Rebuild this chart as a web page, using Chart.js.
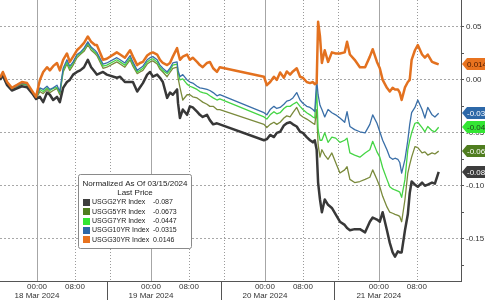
<!DOCTYPE html>
<html>
<head>
<meta charset="utf-8">
<script src="https://cdn.jsdelivr.net/npm/chart.js@4.4.1/dist/chart.umd.min.js"></script>
<style>
  html, body { margin: 0; padding: 0; background: #fff; }
  #wrap { width: 485px; height: 300px; }
</style>
</head>
<body>
<div id="wrap"><canvas id="chart" width="485" height="300"></canvas></div>
<script>
// time axis: hours since 18 Mar 2024 00:00
const hours = [
  -7.8, -7.2, -6.3, -5.3, -4.2, -3.2, -2.1, -0.8, -0.2,
  0.6, 1.3, 2.1, 2.7, 3.4, 4.2, 4.8, 5.5, 6.3, 6.9, 7.6, 8.4, 9.1, 9.9, 10.7, 11.4, 12.2, 12.6, 13.9, 14.7,
  16.8, 17.5, 18.5, 19.6, 20.2, 21.1, 21.7, 22.3, 23.2, 23.8, 24.4, 25.3, 25.9, 26.5, 27.4, 28.0, 28.6, 29.5, 29.7, 30.1,
  30.7, 31.6, 32.2, 32.8, 33.7, 34.3, 34.9, 35.8, 36.4, 37.1, 37.9, 38.5,
  47.8, 48.4, 49.1, 49.9, 50.5, 51.2, 52.0, 52.6, 53.3, 53.9, 54.7, 55.4, 56.0, 56.8, 57.5, 58.1, 58.5, 58.9,
  59.2, 59.6, 60.0, 60.6, 61.3, 62.1, 62.9, 63.8, 64.8, 65.3, 65.9, 66.9, 68.0, 69.1, 70.1, 70.7, 71.6, 72.2, 72.8,
  73.7, 74.3, 74.9, 75.4, 76.0, 76.4, 76.8, 77.5, 78.1, 78.5, 78.9, 79.6, 80.2, 81.1, 81.7, 82.3, 83.2, 83.8, 84.6
];

const usgg2yr = [
  0, 0.004, -0.005, -0.010, -0.008, -0.006, -0.007, -0.014, -0.018,
  -0.016, -0.021, -0.012, -0.014, -0.019, -0.016, -0.021, -0.0075, -0.002, 0, 0.005, 0.0075, 0.009, 0.012, 0.019, 0.012, 0.0075, 0.005, 0.0075, 0.005,
  0.002, 0.003, -0.002, -0.002, -0.002, -0.011, -0.007, -0.003, 0.005, 0.0075, 0.003, 0.005, 0.002, -0.002, -0.017, -0.012, -0.014, -0.009, -0.022, -0.036,
  -0.028, -0.033, -0.025, -0.026, -0.030, -0.033, -0.035, -0.033, -0.038, -0.042, -0.041, -0.042,
  -0.057, -0.056, -0.052, -0.054, -0.050, -0.049, -0.043, -0.041, -0.040, -0.042, -0.044, -0.049, -0.050, -0.054, -0.057, -0.059, -0.057, -0.066,
  -0.097, -0.113, -0.125, -0.113, -0.118, -0.121, -0.127, -0.134, -0.137, -0.140, -0.142, -0.141, -0.141, -0.144, -0.134, -0.130, -0.132, -0.134, -0.125,
  -0.142, -0.154, -0.163, -0.167, -0.162, -0.163, -0.163, -0.142, -0.127, -0.107, -0.096, -0.099, -0.101, -0.097, -0.100, -0.099, -0.097, -0.098, -0.087
];

const usgg5yr = [
  0, 0.006, -0.004, -0.009, -0.007, -0.004, -0.005, -0.014, -0.018,
  -0.011, -0.013, -0.009, -0.012, -0.010, -0.008, -0.014, 0.0075, 0.015, 0.009, 0.014, 0.021, 0.024, 0.027, 0.033, 0.028, 0.025, 0.023, 0.011, 0.012,
  0.017, 0.015, 0.012, 0.019, 0.013, 0.006, 0.0075, 0.009, 0.015, 0.017, 0.018, 0.015, 0.010, 0.0075, 0.003, 0.007, 0.011, 0.012, 0.002, -0.007,
  -0.019, -0.014, -0.014, -0.016, -0.017, -0.019, -0.021, -0.023, -0.025, -0.025, -0.028, -0.028,
  -0.042, -0.045, -0.042, -0.040, -0.042, -0.040, -0.036, -0.034, -0.035, -0.031, -0.026, -0.033, -0.035, -0.037, -0.039, -0.041, -0.042, -0.028,
  -0.061, -0.073, -0.066, -0.071, -0.075, -0.069, -0.078, -0.088, -0.085, -0.082, -0.094, -0.097, -0.096, -0.094, -0.092, -0.085, -0.094, -0.101, -0.110,
  -0.120, -0.125, -0.126, -0.127, -0.128, -0.129, -0.134, -0.113, -0.088, -0.080, -0.073, -0.063, -0.064, -0.069, -0.068, -0.071, -0.069, -0.070, -0.0673
];

const usgg7yr = [
  0.001, 0.007, -0.003, -0.008, -0.006, -0.003, -0.005, -0.013, -0.017,
  -0.009, -0.011, -0.0075, -0.010, -0.008, -0.007, -0.012, 0.009, 0.017, 0.011, 0.016, 0.023, 0.025, 0.029, 0.035, 0.030, 0.026, 0.025, 0.013, 0.014,
  0.019, 0.017, 0.014, 0.021, 0.015, 0.0075, 0.009, 0.011, 0.017, 0.019, 0.020, 0.017, 0.012, 0.009, 0.006, 0.009, 0.014, 0.015, 0.0075, 0,
  0.001, -0.004, -0.006, -0.007, -0.009, -0.011, -0.012, -0.013, -0.015, -0.017, -0.019, -0.018,
  -0.035, -0.037, -0.033, -0.030, -0.032, -0.031, -0.027, -0.025, -0.025, -0.023, -0.021, -0.025, -0.028, -0.031, -0.033, -0.035, -0.036, -0.009,
  -0.047, -0.057, -0.057, -0.050, -0.059, -0.054, -0.055, -0.059, -0.057, -0.055, -0.069, -0.071, -0.073, -0.069, -0.066, -0.058, -0.068, -0.073, -0.083,
  -0.094, -0.101, -0.103, -0.104, -0.105, -0.106, -0.111, -0.094, -0.066, -0.057, -0.050, -0.041, -0.040, -0.045, -0.049, -0.044, -0.048, -0.049, -0.0447
];

const usgg10yr = [
  0.002, 0.007, -0.003, -0.008, -0.006, -0.003, -0.004, -0.013, -0.017,
  -0.0075, -0.009, -0.006, -0.009, -0.0075, -0.005, -0.011, 0.011, 0.019, 0.013, 0.017, 0.024, 0.026, 0.030, 0.036, 0.031, 0.028, 0.026, 0.015, 0.016,
  0.021, 0.019, 0.016, 0.023, 0.017, 0.009, 0.011, 0.013, 0.019, 0.021, 0.022, 0.019, 0.014, 0.011, 0.0075, 0.011, 0.016, 0.017, 0.009, 0.003,
  0.005, 0, -0.002, -0.003, -0.006, -0.0075, -0.008, -0.009, -0.010, -0.012, -0.015, -0.014,
  -0.031, -0.033, -0.028, -0.025, -0.027, -0.026, -0.023, -0.020, -0.019, -0.017, -0.012, -0.019, -0.022, -0.025, -0.026, -0.028, -0.030, 0,
  -0.014, -0.024, -0.028, -0.035, -0.028, -0.031, -0.033, -0.036, -0.040, -0.030, -0.044, -0.047, -0.049, -0.050, -0.042, -0.033, -0.041, -0.049, -0.057,
  -0.066, -0.073, -0.075, -0.074, -0.075, -0.078, -0.088, -0.075, -0.057, -0.042, -0.031, -0.026, -0.019, -0.028, -0.036, -0.026, -0.033, -0.035, -0.0315
];

const usgg30yr = [
  0.002, 0.0075, -0.002, -0.0075, -0.0047, -0.002, -0.003, -0.012, -0.016,
  0, 0.0075, 0.012, 0.009, 0.013, 0.016, 0.009, 0.019, 0.025, 0.017, 0.022, 0.028, 0.031, 0.035, 0.041, 0.036, 0.033, 0.033, 0.019, 0.020,
  0.026, 0.024, 0.021, 0.028, 0.022, 0.014, 0.016, 0.017, 0.023, 0.025, 0.026, 0.024, 0.019, 0.016, 0.014, 0.016, 0.022, 0.030, 0.026, 0.019,
  0.022, 0.024, 0.019, 0.021, 0.017, 0.014, 0.012, 0.016, 0.017, 0.011, 0.0075, 0.012,
  0.003, -0.005, -0.002, 0.003, 0, 0.007, 0.002, 0.008, 0.005, 0.008, 0.011, 0.003, 0.002, -0.002, -0.003, -0.002, -0.004, -0.003,
  0.055, 0.041, 0.016, 0.028, 0.017, 0.026, 0.025, 0.025, 0.026, 0.036, 0.024, 0.019, 0.012, 0.012, 0.022, 0.029, 0.017, 0.011, 0,
  -0.0075, -0.011, -0.0075, -0.009, -0.009, -0.012, -0.019, -0.007, -0.002, 0, 0.019, 0.028, 0.033, 0.024, 0.021, 0.024, 0.017, 0.016, 0.0146
];

const seriesNames = ['USGG2YR Index', 'USGG5YR Index', 'USGG7YR Index', 'USGG10YR Index', 'USGG30YR Index'];
const lastPrices = ['-0.087', '-0.0673', '-0.0447', '-0.0315', '0.0146'];
const seriesColors = ['#383838', '#7a8a3c', '#45d545', '#3a6fa8', '#e3711f'];
const swatchColors = ['#3d3d3d', '#4f7d1f', '#33e633', '#2d68a8', '#e8731f'];
const tagTextColors = ['#ffffff', '#ffffff', '#1d3d1d', '#ffffff', '#4a1a00'];
const lineWidths = [2.5, 1.3, 1.3, 1.3, 2.5];
const drawOrder = [1, 4, 3, 2, 0];

const legendTitle = ['Normalized As Of 03/15/2024', 'Last Price'];
const xTickHours = [0, 8, 24, 32, 48, 56, 72, 80];
const dayLabels = ['18 Mar 2024', '19 Mar 2024', '20 Mar 2024', '21 Mar 2024'];
const dayStartHours = [0, 24, 48, 72];
const dottedHours = [8, 32, 56, 80, 15.3, 39.3, 63.3];
const separatorHours = [14.7, 38.7, 62.6];
const yTickValues = [-0.175, -0.15, -0.125, -0.1, -0.075, -0.05, -0.025, 0, 0.025, 0.05];

const FONT = '"Liberation Sans", Arial, sans-serif';
const isMajor = v => Math.abs(v / 0.05 - Math.round(v / 0.05)) < 1e-6;

const allSeries = [usgg2yr, usgg5yr, usgg7yr, usgg10yr, usgg30yr];

// vertical grid lines and day separators
const timeGridPlugin = {
    id: 'timeGrid',
    beforeDatasetsDraw(chart) {
        const { ctx, chartArea: a, scales: { x } } = chart;
        ctx.save();
        ctx.lineWidth = 1;
        ctx.strokeStyle = '#a6a6a6';
        dayStartHours.forEach(h => {
            const px = Math.round(x.getPixelForValue(h)) + 0.5;
            ctx.beginPath(); ctx.moveTo(px, a.top); ctx.lineTo(px, a.bottom); ctx.stroke();
        });
        ctx.setLineDash([1, 2]);
        ctx.strokeStyle = '#9a9a9a';
        dottedHours.forEach(h => {
            const px = Math.round(x.getPixelForValue(h)) + 0.5;
            ctx.beginPath(); ctx.moveTo(px, a.top); ctx.lineTo(px, a.bottom); ctx.stroke();
        });
        ctx.restore();
    },
    afterDraw(chart) {
        const { ctx, chartArea: a, scales: { x } } = chart;
        ctx.save();
        ctx.strokeStyle = '#555';
        ctx.lineWidth = 1;
        separatorHours.forEach(h => {
            const px = Math.round(x.getPixelForValue(h)) + 0.5;
            ctx.beginPath(); ctx.moveTo(px, a.bottom); ctx.lineTo(px, chart.height); ctx.stroke();
        });
        ctx.restore();
    }
};

// last value tags on the right axis
const tagPlugin = {
    id: 'lastTags',
    afterDraw(chart) {
        const { ctx, chartArea: a, scales: { y } } = chart;
        ctx.save();
        ctx.font = '8px ' + FONT;
        ctx.textBaseline = 'middle';
        allSeries.forEach((s, i) => {
            const py = Math.round(y.getPixelForValue(s[s.length - 1]));
            const x0 = a.right + 1;
            ctx.fillStyle = swatchColors[i];
            ctx.beginPath();
            ctx.moveTo(x0, py);
            ctx.lineTo(x0 + 5, py - 6);
            ctx.lineTo(chart.width + 2, py - 6);
            ctx.lineTo(chart.width + 2, py + 6);
            ctx.lineTo(x0 + 5, py + 6);
            ctx.closePath();
            ctx.fill();
            ctx.fillStyle = tagTextColors[i];
            ctx.fillText(lastPrices[i], x0 + 5, py + 0.5);
        });
        ctx.restore();
    }
};

// Bloomberg-style legend box
const legendPlugin = {
    id: 'bbgLegend',
    afterDraw(chart) {
        const ctx = chart.ctx;
        const bx = 78.5, by = 174.5, bw = 113, bh = 74;
        ctx.save();
        ctx.fillStyle = '#ffffff';
        ctx.strokeStyle = '#8a8a8a';
        ctx.lineWidth = 1;
        ctx.beginPath();
        ctx.roundRect(bx, by, bw, bh, 2);
        ctx.fill();
        ctx.stroke();
        ctx.font = '8px ' + FONT;
        ctx.fillStyle = '#222';
        ctx.textBaseline = 'middle';
        ctx.textAlign = 'center';
        ctx.fillText(legendTitle[0], bx + bw / 2, by + 9);
        ctx.fillText(legendTitle[1], bx + bw / 2, by + 18.5);
        ctx.textAlign = 'left';
        ctx.font = '7px ' + FONT;
        seriesNames.forEach((name, i) => {
            const cy = by + 28 + i * 9.3;
            ctx.fillStyle = swatchColors[i];
            ctx.fillRect(83, Math.round(cy - 3.5), 7, 7);
            ctx.fillStyle = '#222';
            ctx.fillText(name, 92, cy);
            ctx.fillText(lastPrices[i], 153, cy);
        });
        ctx.restore();
    }
};

const datasets = allSeries.map((s, i) => ({
    label: seriesNames[i],
    data: s.map((v, k) => ({ x: hours[k], y: v })),
    borderColor: seriesColors[i],
    borderWidth: lineWidths[i],
    pointRadius: 0,
    tension: 0,
    borderJoinStyle: 'round',
    order: drawOrder[i]
}));

new Chart(document.getElementById('chart').getContext('2d'), {
    type: 'line',
    data: { datasets },
    options: {
        responsive: false,
        animation: false,
        devicePixelRatio: 1,
        layout: { padding: 0 },
        plugins: { legend: { display: false }, tooltip: { enabled: false } },
        scales: {
            x: {
                type: 'linear',
                min: -7.8,
                max: 89.3,
                afterBuildTicks: s => { s.ticks = xTickHours.map(v => ({ value: v })); },
                afterFit: s => { s.height = 19; s.paddingLeft = 0; s.paddingRight = 0; },
                grid: { display: false, drawTicks: false },
                border: { display: true, color: '#555', width: 1 },
                ticks: {
                    autoSkip: false,
                    maxRotation: 0,
                    padding: 1,
                    color: '#333',
                    font: { family: FONT, size: 8, lineHeight: 1.15 },
                    callback: v => {
                        const hh = ((v % 24) + 24) % 24;
                        const t = (hh < 10 ? '0' : '') + hh + ':00';
                        if (hh === 0) return [t, dayLabels[Math.round(v / 24)]];
                        return t;
                    }
                }
            },
            y: {
                position: 'right',
                min: -0.19,
                max: 0.0755,
                afterBuildTicks: s => { s.ticks = yTickValues.map(v => ({ value: v })); },
                afterFit: s => { s.width = 24; s.paddingTop = 0; s.paddingBottom = 0; },
                grid: {
                    color: c => isMajor(c.tick.value) ? '#a8a8a8' : 'rgba(0,0,0,0)',
                    tickColor: '#555',
                    tickLength: 3,
                    lineWidth: 1
                },
                border: { display: true, color: '#555', width: 1, dash: [2, 2] },
                ticks: {
                    padding: 2,
                    color: '#333',
                    font: { family: FONT, size: 8 },
                    callback: v => isMajor(v) ? v.toFixed(2) : ''
                }
            }
        }
    },
    plugins: [timeGridPlugin, tagPlugin, legendPlugin]
});
</script>
</body>
</html>
